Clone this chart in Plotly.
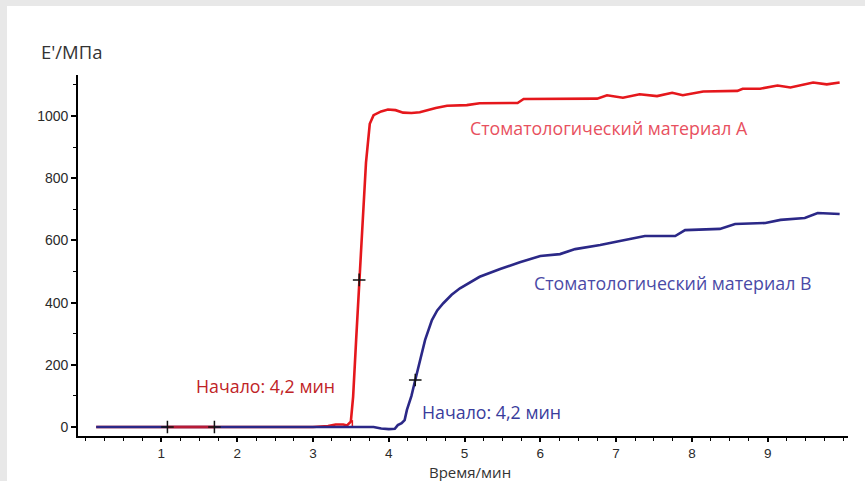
import plotly.graph_objects as go

# Storage modulus E' (MPa) versus time (min) for two dental materials
time_a = [0.14, 1.0, 2.0, 3.0, 3.2, 3.3, 3.4, 3.45, 3.50, 3.53, 3.57, 3.61, 3.65, 3.70, 3.75,
          3.80, 3.90, 3.99, 4.09, 4.19, 4.30, 4.41, 4.50, 4.62, 4.77, 5.03, 5.20, 5.47, 5.70,
          5.78, 6.26, 6.75, 6.88, 7.09, 7.31, 7.54, 7.74, 7.88, 8.15, 8.60, 8.67, 8.90, 9.13,
          9.30, 9.60, 9.78, 9.95]
modulus_a = [0, 0, 0, 0, 3, 8, 8, 5, 17, 97, 280, 473, 632, 850, 975,
             1003, 1015, 1021, 1019, 1011, 1010, 1012, 1019, 1026, 1033, 1035, 1041, 1041, 1042,
             1055, 1056, 1056, 1067, 1059, 1070, 1064, 1075, 1067, 1079, 1081, 1088, 1088, 1098,
             1092, 1108, 1102, 1108]

time_b = [0.14, 1.0, 2.0, 3.0, 3.8, 3.9, 4.0, 4.08, 4.12, 4.17, 4.21, 4.24, 4.30, 4.35, 4.42,
          4.48, 4.57, 4.64, 4.72, 4.83, 4.94, 5.20, 5.47, 5.73, 6.00, 6.26, 6.46, 6.79, 7.05,
          7.25, 7.38, 7.78, 7.91, 8.37, 8.57, 8.97, 9.17, 9.49, 9.66, 9.95]
modulus_b = [0, 0, 0, 0, 0, -5, -7, -6, 6, 12, 22, 55, 100, 151, 220,
             280, 344, 375, 398, 425, 446, 483, 508, 530, 550, 556, 572, 585, 598,
             608, 614, 614, 633, 637, 653, 656, 666, 672, 688, 685]

# Onset tangent on the steep rise of material A
tangent_t = [3.52, 3.52]
tangent_e = [0, 22]

# Highlighted baseline interval and crosshair marks
interval_t = [1.08, 1.70]
interval_e = [0, 0]
mark_t = [1.08, 1.70, 3.61, 4.35]
mark_e = [0, 0, 473, 151]

label_a = "Стоматологический материал A"
label_b = "Стоматологический материал B"
onset_a = "Начало: 4,2 мин"
onset_b = "Начало: 4,2 мин"

x_major = [1, 2, 3, 4, 5, 6, 7, 8, 9]
y_major = [0, 200, 400, 600, 800, 1000]

RED = "#e5171c"
BLUE = "#2b2887"

fig = go.Figure()
fig.add_trace(go.Scatter(x=time_a, y=modulus_a, mode="lines",
                         line=dict(color=RED, width=2.6), hoverinfo="skip"))
fig.add_trace(go.Scatter(x=tangent_t, y=tangent_e, mode="lines",
                         line=dict(color=RED, width=1.5), hoverinfo="skip"))
fig.add_trace(go.Scatter(x=time_b, y=modulus_b, mode="lines",
                         line=dict(color=BLUE, width=2.6), hoverinfo="skip"))
fig.add_trace(go.Scatter(x=interval_t, y=interval_e, mode="lines", opacity=0.75,
                         line=dict(color=RED, width=2.6), hoverinfo="skip"))
fig.add_trace(go.Scatter(x=mark_t, y=mark_e, mode="markers", hoverinfo="skip",
                         marker=dict(symbol="cross-thin", size=9,
                                     line=dict(color="#111111", width=1.5))))

# light grey frame strip around the white panel
fig.add_shape(type="rect", xref="paper", yref="paper", layer="below",
              x0=-0.0922, x1=1.03, y0=-0.13, y1=1.191,
              fillcolor="white", line=dict(width=0))

lab_font = "Open Sans, Noto Sans, sans-serif"
lab_size = 17.8
fig.add_annotation(x=5.05, y=961, text=label_a, showarrow=False, xanchor="left",
                   font=dict(family=lab_font, size=lab_size, color="#e8505e"))
fig.add_annotation(x=5.89, y=463, text=label_b, showarrow=False, xanchor="left",
                   font=dict(family=lab_font, size=lab_size, color="#4a4aa6"))
fig.add_annotation(x=1.43, y=132, text=onset_a, showarrow=False, xanchor="left",
                   font=dict(family=lab_font, size=lab_size, color="#c02326"))
fig.add_annotation(x=4.41, y=48, text=onset_b, showarrow=False, xanchor="left",
                   font=dict(family=lab_font, size=lab_size, color="#393c9c"))

fig.add_annotation(xref="paper", yref="paper", x=-0.0078, y=1.064, text="E'/МПа",
                   showarrow=False, xanchor="center", yanchor="middle",
                   font=dict(family=lab_font, size=18.5, color="#333333"))
fig.add_annotation(xref="paper", yref="paper", x=0.509, y=-0.0693, text="Время/мин",
                   showarrow=False, xanchor="center", yanchor="top", borderpad=0,
                   font=dict(family=lab_font, size=15, color="#333333"))

fig.update_layout(
    width=865, height=481,
    margin=dict(l=78, r=17, t=75, b=45),
    paper_bgcolor="#e8e8e8", plot_bgcolor="white",
    showlegend=False,
    font=dict(family="Liberation Sans, Arial, sans-serif", size=14, color="#2a2a2a"),
    xaxis=dict(range=[-0.1, 10.06], tickvals=x_major, ticks="outside", ticklen=4,
               tickwidth=1.5, tickcolor="black", showline=True, linecolor="black",
               linewidth=1.6, showgrid=False, zeroline=False,
               tickfont=dict(size=13.5),
               minor=dict(dtick=0.25, tick0=0, ticks="outside", ticklen=3,
                          tickwidth=1.3, tickcolor="black")),
    yaxis=dict(range=[-29, 1132], tickvals=y_major, ticks="outside", ticklen=5,
               tickwidth=1.5, tickcolor="black", showline=True, linecolor="black",
               linewidth=1.6, showgrid=False, zeroline=False,
               minor=dict(dtick=100, tick0=0, ticks="outside", ticklen=3,
                          tickwidth=1.3, tickcolor="black")),
)

fig.write_html("out.html")
